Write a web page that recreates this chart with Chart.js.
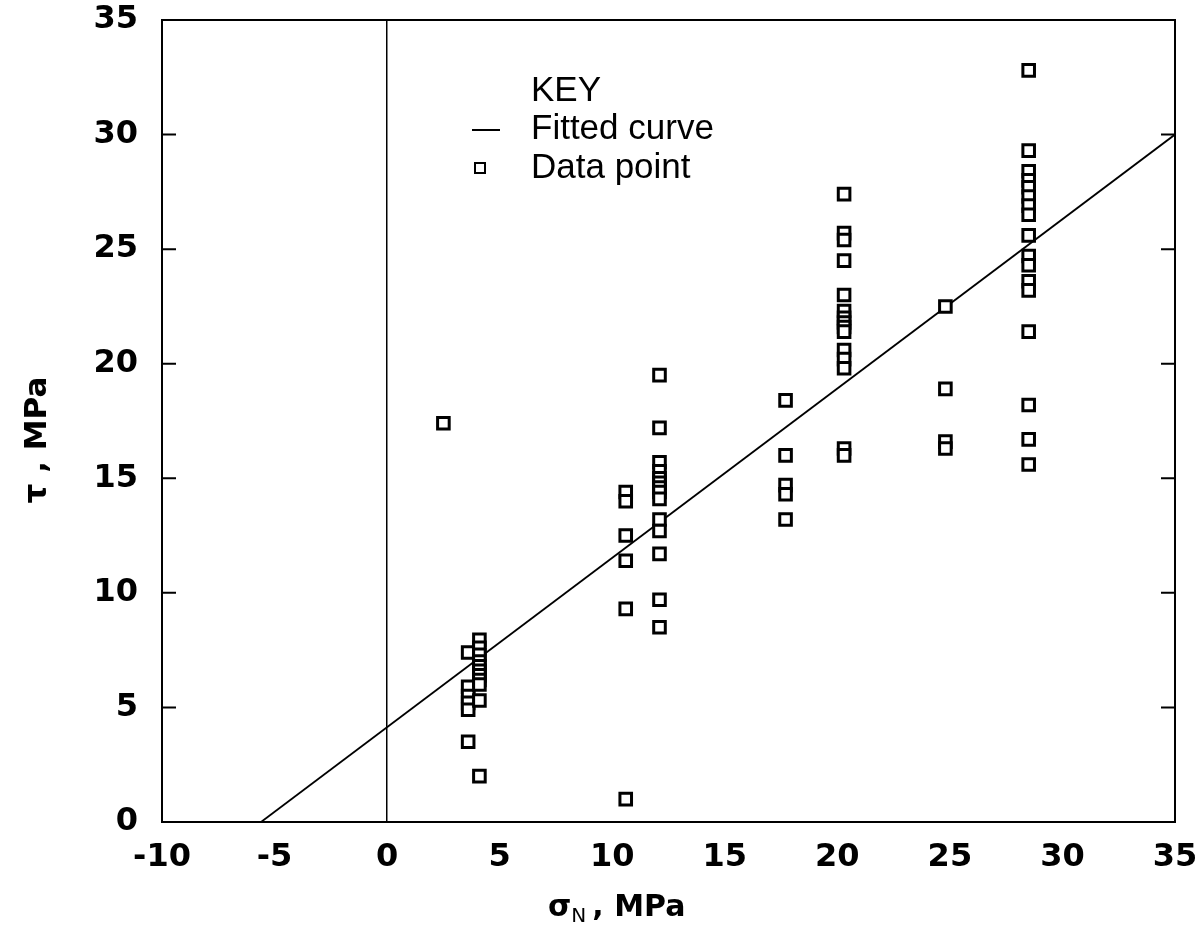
<!DOCTYPE html>
<html>
<head>
<meta charset="utf-8">
<script src="https://cdn.jsdelivr.net/npm/chart.js@4"></script>
<style>
  html, body { margin: 0; padding: 0; background: #fff; }
  #wrap { width: 1202px; height: 938px; position: relative; }
</style>
</head>
<body>
<div id="wrap"><canvas id="chart"></canvas></div>
<script>
// normal stress groups (MPa) and the shear stresses measured at each
const groupStress = [2.5, 3.6, 4.1, 10.6, 12.1, 17.7, 20.3, 24.8, 28.5];
const groupShear = [
  [17.4],
  [7.4, 5.9, 5.5, 5.2, 4.9, 3.5],
  [7.95, 7.6, 7.3, 7.0, 6.8, 6.6, 6.4, 6.2, 6.0, 5.3, 2.0],
  [14.4, 14.0, 12.5, 11.4, 9.3, 1.0],
  [19.5, 17.2, 15.7, 15.3, 15.0, 14.8, 14.6, 14.4, 14.1, 13.2, 12.7, 11.7, 9.7, 8.5],
  [18.4, 16.0, 14.7, 14.3, 13.2],
  [27.4, 25.7, 25.4, 24.5, 23.0, 22.3, 22.0, 21.8, 21.6, 21.4, 20.6, 20.2, 19.8, 16.3, 16.0],
  [22.5, 18.9, 16.6, 16.3],
  [32.8, 29.3, 28.4, 28.0, 27.7, 27.3, 26.9, 26.5, 25.6, 24.7, 24.3, 23.6, 23.2, 21.4, 18.2, 16.7, 15.6]
];
// fitted curve end points
const fitX = [-5.6, 35];
const fitY = [0, 30];
const xTicks = [-10, -5, 0, 5, 10, 15, 20, 25, 30, 35];
const yTicks = [0, 5, 10, 15, 20, 25, 30, 35];

const points = [];
groupStress.forEach((s, i) => groupShear[i].forEach(t => points.push({x: s, y: t})));
const fitLine = fitX.map((x, i) => ({x, y: fitY[i]}));

const tickFont = {family: 'DejaVu Sans', size: 32, weight: 'bold'};

// keep label overhang out of the layout so the plot box sits where the padding says
const noOverhang = s => {
  s.paddingLeft = s.paddingRight = s.paddingTop = s.paddingBottom = 0;
};

// frame, inward ticks, titles and the key
const decor = {
  id: 'decor',
  afterDraw(chart) {
    const {ctx, chartArea: a, scales: {x, y}} = chart;
    ctx.save();
    ctx.strokeStyle = '#000';
    ctx.lineWidth = 2;
    ctx.strokeRect(a.left, a.top, a.right - a.left, a.bottom - a.top);
    yTicks.slice(1, -1).forEach(v => {
      const py = y.getPixelForValue(v);
      ctx.beginPath();
      ctx.moveTo(a.left, py); ctx.lineTo(a.left + 14, py);
      ctx.moveTo(a.right, py); ctx.lineTo(a.right - 14, py);
      ctx.stroke();
    });

    ctx.fillStyle = '#000';
    // x title: sigma_N , MPa
    ctx.textBaseline = 'alphabetic';
    ctx.textAlign = 'left';
    ctx.font = 'bold 30px "DejaVu Sans"';
    let tx = 548, ty = 916;
    ctx.fillText('σ', tx, ty);
    tx += ctx.measureText('σ').width;
    ctx.font = '20px "DejaVu Sans"';
    ctx.fillText('N', tx, ty + 6);
    tx += ctx.measureText('N').width + 6;
    ctx.font = 'bold 30px "DejaVu Sans"';
    ctx.fillText(', MPa', tx, ty);

    // y title: tau , MPa
    ctx.save();
    ctx.translate(46, 440);
    ctx.rotate(-Math.PI / 2);
    ctx.textAlign = 'center';
    ctx.font = 'bold 31px "DejaVu Sans"';
    ctx.fillText('τ , MPa', 0, 0);
    ctx.restore();

    // key
    ctx.font = '35px "Liberation Sans"';
    ctx.textAlign = 'left';
    ctx.textBaseline = 'middle';
    ctx.fillText('KEY', 531, 91);
    ctx.fillText('Fitted curve', 531, 129);
    ctx.fillText('Data point', 531, 168);
    ctx.lineWidth = 2;
    ctx.beginPath();
    ctx.moveTo(472, 130); ctx.lineTo(500, 130);
    ctx.stroke();
    ctx.strokeRect(475, 163, 10, 10);
    ctx.restore();
  }
};

new Chart(document.getElementById('chart'), {
  type: 'scatter',
  data: {
    datasets: [
      {
        label: 'Fitted curve',
        data: fitLine,
        showLine: true,
        borderColor: '#000',
        borderWidth: 1.8,
        pointRadius: 0,
        order: 2
      },
      {
        label: 'Data point',
        data: points,
        pointStyle: 'rect',
        pointRadius: 8.2,
        pointBackgroundColor: '#fff',
        pointBorderColor: '#000',
        pointBorderWidth: 3,
        order: 1
      }
    ]
  },
  options: {
    responsive: true,
    maintainAspectRatio: false,
    animation: false,
    layout: {padding: {top: 20, right: 27, left: 0, bottom: 0}},
    plugins: {legend: {display: false}, tooltip: {enabled: false}},
    scales: {
      x: {
        type: 'linear',
        min: -10, max: 35,
        afterBuildTicks: s => { s.ticks = xTicks.map(v => ({value: v})); },
        afterFit: s => { s.height = 116; noOverhang(s); },
        ticks: {font: tickFont, color: '#000', padding: 16},
        grid: {
          color: c => c.tick && c.tick.value === 0 ? '#000' : 'rgba(0,0,0,0)',
          lineWidth: 1.5,
          drawTicks: false
        },
        border: {display: true, color: '#000', width: 2}
      },
      y: {
        type: 'linear',
        min: 0, max: 35,
        afterBuildTicks: s => { s.ticks = yTicks.map(v => ({value: v})); },
        afterFit: s => { s.width = 162; noOverhang(s); },
        ticks: {font: tickFont, color: '#000', padding: 24},
        grid: {display: false, drawTicks: false},
        border: {display: true, color: '#000', width: 2}
      }
    }
  },
  plugins: [decor]
});
</script>
</body>
</html>
